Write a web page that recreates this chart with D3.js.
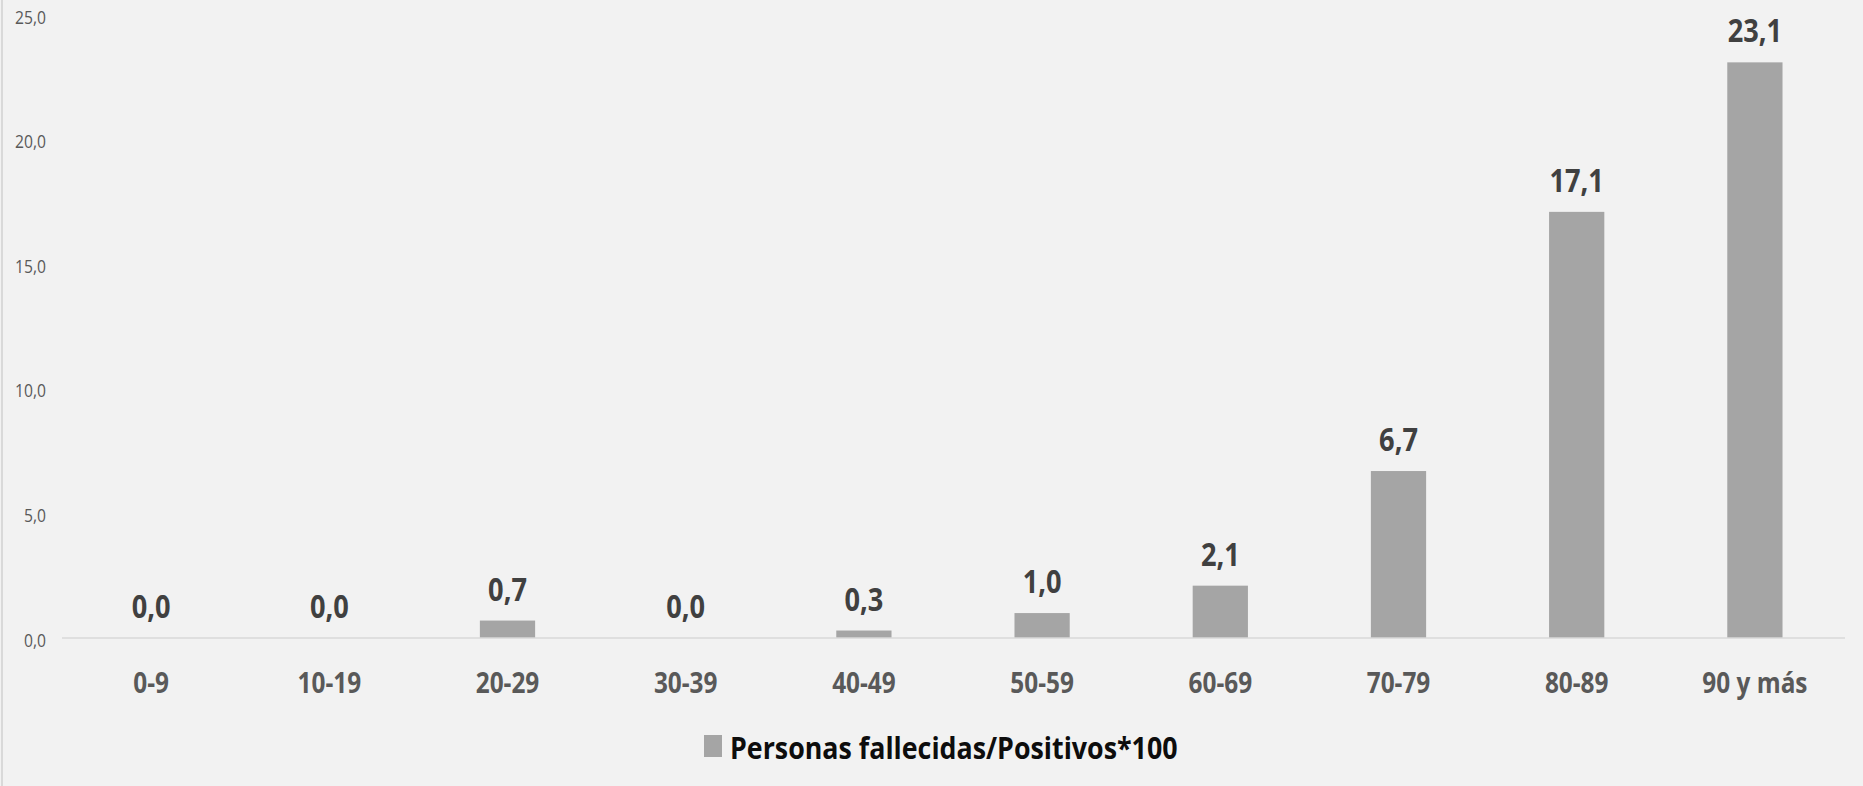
<!DOCTYPE html>
<html>
<head>
<meta charset="utf-8">
<script src="https://cdn.jsdelivr.net/npm/d3@7"></script>
<style>
  html, body { margin: 0; padding: 0; background: #f2f2f2; }
  svg { display: block; }
</style>
</head>
<body>
<script>
const categories = ["0-9", "10-19", "20-29", "30-39", "40-49", "50-59", "60-69", "70-79", "80-89", "90 y más"];
const values = [0.0, 0.0, 0.7, 0.0, 0.3, 1.0, 2.1, 6.7, 17.1, 23.1];
const yTicks = [0, 5, 10, 15, 20, 25];
const seriesName = "Personas fallecidas/Positivos*100";

const W = 1863, H = 786;
const fmt = v => d3.format(".1f")(v).replace(".", ",");

const svg = d3.select("body").append("svg").attr("width", W).attr("height", H);
svg.append("rect").attr("width", W).attr("height", H).attr("fill", "#f2f2f2");
// left border of chart area
svg.append("line").attr("x1", 2).attr("x2", 2).attr("y1", 0).attr("y2", H)
  .attr("stroke", "#d9d9d9").attr("stroke-width", 2);

const x = d3.scaleBand().domain(categories).range([62, 1844])
  .paddingInner(0.69).paddingOuter(0.345);
const y = d3.scaleLinear().domain([0, 25]).range([638, 15]);

function ctext(g, txt, px, py, opts) {
  return g.append("text")
    .attr("transform", `translate(${px},${py}) scale(${opts.sx},1)`)
    .attr("text-anchor", opts.anchor || "middle")
    .attr("font-family", "'Open Sans', sans-serif")
    .attr("font-weight", opts.weight || "normal")
    .attr("font-size", opts.size)
    .attr("fill", opts.fill)
    .text(txt);
}

// y tick labels (no gridlines)
const ay = svg.append("g");
yTicks.forEach(t => {
  ctext(ay, fmt(t), 46, y(t) + 8.5, {sx: 0.87, anchor: "end", size: 18, fill: "#595959"});
});

// bars
svg.append("g").selectAll("rect").data(values).join("rect")
  .attr("x", (d, i) => x(categories[i]))
  .attr("y", d => y(d))
  .attr("width", x.bandwidth())
  .attr("height", d => y(0) - y(d))
  .attr("fill", "#a5a5a5");

// baseline
svg.append("line").attr("x1", 62).attr("x2", 1845).attr("y1", y(0)).attr("y2", y(0))
  .attr("stroke", "#d9d9d9").attr("stroke-width", 1.5);

// value labels
const vl = svg.append("g");
values.forEach((v, i) => {
  ctext(vl, fmt(v), x(categories[i]) + x.bandwidth() / 2, y(v) - 20,
    {sx: 0.85, weight: "bold", size: 32, fill: "#404040"});
});

// category labels
const cl = svg.append("g");
categories.forEach(c => {
  ctext(cl, c, x(c) + x.bandwidth() / 2, 693, {sx: 0.87, weight: "bold", size: 28, fill: "#595959"});
});

// legend
const lg = svg.append("g");
lg.append("rect").attr("x", 704).attr("y", 735).attr("width", 18).attr("height", 22).attr("fill", "#a5a5a5");
ctext(lg, seriesName, 730, 759, {sx: 0.865, anchor: "start", weight: "bold", size: 31, fill: "#0d0d0d"});
</script>
</body>
</html>
